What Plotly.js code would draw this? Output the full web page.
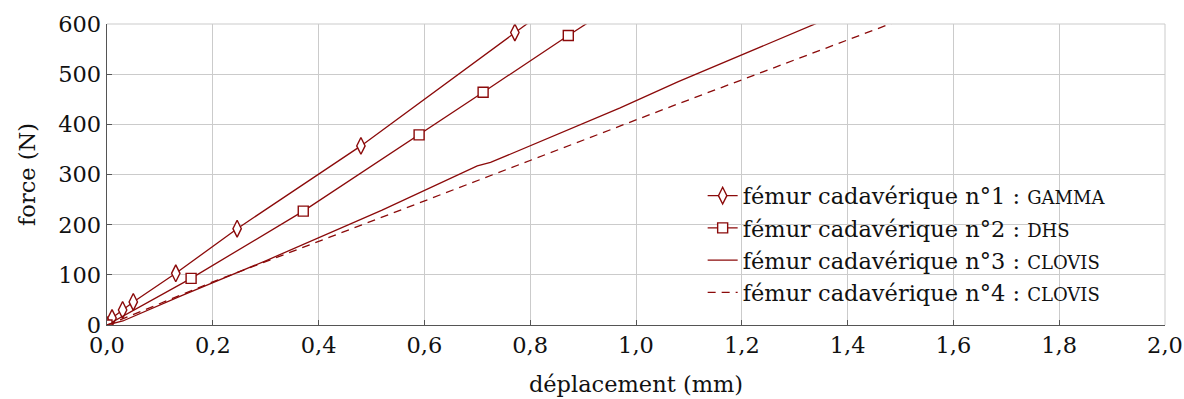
<!DOCTYPE html>
<html>
<head>
<meta charset="utf-8">
<script src="https://cdn.plot.ly/plotly-3.0.1.min.js"></script>
<style>html,body{margin:0;padding:0;background:#fff;}#chart{width:1184px;height:399px;}</style>
</head>
<body>
<div id="chart"></div>
<script>
// Fémur 1 : GAMMA
const gammaX = [0, 0.0095, 0.0295, 0.0497, 0.130, 0.246, 0.480, 0.771, 1.0];
const gammaY = [0, 14, 30, 46, 103, 192, 357, 583, 760];
// Fémur 2 : DHS
const dhsX = [0, 0.159, 0.371, 0.590, 0.711, 0.872, 1.0];
const dhsY = [0, 93, 227, 379, 464, 577, 665];
// Fémur 3 : CLOVIS
const clovis3X = [0, 0.03, 0.14, 0.30, 0.52, 0.70, 0.725, 0.97, 1.08, 1.34, 1.5];
const clovis3Y = [0, 8, 58, 128, 229, 317, 324, 433, 485, 600, 672];
// Fémur 4 : CLOVIS
const clovis4X = [0, 0.02, 0.20, 0.52, 0.97, 1.08, 1.48, 1.6];
const clovis4Y = [0, 8, 86, 215, 396, 441, 600, 649];

const names = [
  'fémur cadavérique n°1 : <span style="font-size:18px">GAMMA</span>',
  'fémur cadavérique n°2 : <span style="font-size:18px">DHS</span>',
  'fémur cadavérique n°3 : <span style="font-size:18px">CLOVIS</span>',
  'fémur cadavérique n°4 : <span style="font-size:18px">CLOVIS</span>'
];
const xTicks = [0, 0.2, 0.4, 0.6, 0.8, 1.0, 1.2, 1.4, 1.6, 1.8, 2.0];
const yTicks = [0, 100, 200, 300, 400, 500, 600];

const red = '#8b0a0a';
const traces = [
  {x: gammaX, y: gammaY, name: names[0], mode: 'lines+markers',
   line: {color: red, width: 1.3},
   marker: {symbol: 'diamond-tall', size: 12, color: '#fff', line: {color: red, width: 1.4}}},
  {x: dhsX, y: dhsY, name: names[1], mode: 'lines+markers',
   line: {color: red, width: 1.3},
   marker: {symbol: 'square', size: 10, color: '#fff', line: {color: red, width: 1.4}}},
  {x: clovis3X, y: clovis3Y, name: names[2], mode: 'lines',
   line: {color: red, width: 1.3}},
  {x: clovis4X, y: clovis4Y, name: names[3], mode: 'lines',
   line: {color: red, width: 1.3, dash: '8px,6px'}}
];

const font = {family: 'DejaVu Serif', size: 22.5, color: '#111'};
const layout = {
  width: 1184, height: 399,
  margin: {l: 107, r: 19, t: 24, b: 74},
  paper_bgcolor: '#fff', plot_bgcolor: '#fff',
  font: font,
  separators: ',.',
  showlegend: true,
  legend: {x: 0.563, y: 0.50, xanchor: 'left', yanchor: 'top',
           bgcolor: 'rgba(0,0,0,0)', borderwidth: 0, font: font, tracegroupgap: 0},
  xaxis: {range: [0, 2.0], tickvals: xTicks, tickformat: '.1f',
          showgrid: true, gridcolor: '#cbcbcb', gridwidth: 1,
          showline: true, linecolor: '#555', linewidth: 1.3, mirror: false,
          ticks: 'inside', ticklen: 5, tickcolor: '#555', tickwidth: 1,
          zeroline: false, fixedrange: true,
          tickfont: font,
          title: {text: 'déplacement (mm)', font: font, standoff: 19}},
  yaxis: {range: [0, 600], tickvals: yTicks,
          showgrid: true, gridcolor: '#cbcbcb', gridwidth: 1,
          showline: true, linecolor: '#555', linewidth: 1.3, mirror: false,
          ticks: 'inside', ticklen: 5, tickcolor: '#555', tickwidth: 1,
          zeroline: false, fixedrange: true,
          tickfont: font,
          title: {text: 'force (N)', font: font, standoff: 16}},
  shapes: [
    {type: 'line', xref: 'paper', yref: 'paper', x0: 0, x1: 1, y0: 1, y1: 1, line: {color: '#cbcbcb', width: 1}},
    {type: 'line', xref: 'paper', yref: 'paper', x0: 1, x1: 1, y0: 0, y1: 1, line: {color: '#cbcbcb', width: 1}}
  ]
};
Plotly.newPlot('chart', traces, layout, {displayModeBar: false, staticPlot: true});
</script>
</body>
</html>
